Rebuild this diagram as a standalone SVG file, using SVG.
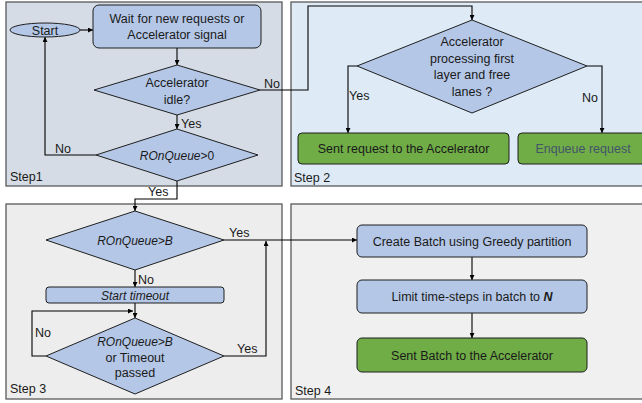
<svg xmlns="http://www.w3.org/2000/svg" width="642" height="403" viewBox="0 0 642 403">
<defs>
<marker id="ah" viewBox="0 0 10 10" refX="10" refY="5" markerWidth="5" markerHeight="5" orient="auto" markerUnits="userSpaceOnUse">
<path d="M0,0 L10,5 L0,10 z" fill="#000"/>
</marker>
<style>
text{font-family:"Liberation Sans",Arial,sans-serif;fill:#1a1a1a}
.t{font-size:12.5px;text-anchor:middle}
.l{font-size:12.5px}
.it{font-style:italic}
.panel{stroke:#595959;stroke-width:1.3}
.blue{fill:#b4c7e7;stroke:#1f1f1f;stroke-width:1}
.green{fill:#70ad47;stroke:#1f1f1f;stroke-width:1}
.c{fill:none;stroke:#000;stroke-width:1.1}
.a{marker-end:url(#ah)}
</style>
</defs>
<rect width="642" height="403" fill="#ffffff"/>
<g id="panels">
<rect class="panel" x="6" y="2" width="276" height="184" fill="#d6dce5"/>
<rect class="panel" x="291" y="2" width="355" height="184" fill="#deebf7"/>
<rect class="panel" x="6" y="204" width="276" height="195" fill="#ededed"/>
<rect class="panel" x="291" y="204" width="355" height="195" fill="#f0f0f0"/>
<text class="l" x="10" y="181">Step1</text>
<text class="l" x="294" y="182">Step 2</text>
<text class="l" x="10" y="393">Step 3</text>
<text class="l" x="295" y="395">Step 4</text>
</g>
<g id="connectors">
<line class="c a" x1="80" y1="30" x2="93" y2="30"/>
<line class="c a" x1="177" y1="48" x2="177" y2="65"/>
<path class="c a" d="M260,90 H308 V6 H472 V20"/>
<line class="c a" x1="177" y1="115" x2="177" y2="129"/>
<path class="c a" d="M96,155 H45 V37"/>
<path class="c a" d="M177,181 V199 H135 V211"/>
<path class="c a" d="M357,66 H348 V133"/>
<path class="c a" d="M587,66 H602 V133"/>
<line class="c a" x1="224" y1="240" x2="357" y2="240"/>
<line class="c a" x1="135" y1="270" x2="135" y2="287"/>
<line class="c a" x1="135" y1="303" x2="135" y2="318"/>
<path class="c a" d="M46,356 H32 V311 H133"/>
<path class="c a" d="M224,356 H266 V241"/>
<line class="c a" x1="472" y1="257" x2="472" y2="280"/>
<line class="c a" x1="472" y1="313" x2="472" y2="338"/>
<text class="l" x="264" y="88">No</text>
<text class="l" x="181" y="128">Yes</text>
<text class="l" x="55" y="153">No</text>
<text class="l" x="148" y="196">Yes</text>
<text class="l" x="349" y="100">Yes</text>
<text class="l" x="582" y="102">No</text>
<text class="l" x="229" y="237">Yes</text>
<text class="l" x="138" y="284">No</text>
<text class="l" x="35" y="337">No</text>
<text class="l" x="237" y="353">Yes</text>
</g>
<g id="start">
<ellipse class="blue" cx="45" cy="30" rx="35" ry="7"/>
<text class="t" x="45" y="34.5">Start</text>
</g>
<g id="wait">
<rect class="blue" x="93" y="5" width="168" height="43" rx="6"/>
<text class="t" x="177" y="23">Wait for new requests or</text>
<text class="t" x="177" y="39">Accelerator signal</text>
</g>
<g id="idle">
<polygon class="blue" points="177,65 260,90 177,115 94,90"/>
<text class="t" x="177" y="87">Accelerator</text>
<text class="t" x="177" y="104">idle?</text>
</g>
<g id="queue0">
<polygon class="blue" points="177,129 258,155 177,181 96,155"/>
<text class="t" x="177" y="159.5" style="font-size:12px"><tspan class="it">ROnQueue</tspan>&gt;0</text>
</g>
<g id="processing">
<polygon class="blue" points="472,20 587,66 472,113 357,66"/>
<text class="t" x="472" y="46">Accelerator</text>
<text class="t" x="472" y="63">processing first</text>
<text class="t" x="472" y="79">layer and free</text>
<text class="t" x="472" y="96">lanes ?</text>
</g>
<g id="sentreq">
<rect class="green" x="298" y="133" width="211" height="31" rx="4"/>
<text class="t" x="403.5" y="153">Sent request to the Accelerator</text>
</g>
<g id="enqueue">
<rect class="green" x="518" y="133" width="130" height="31" rx="4"/>
<text class="t" x="583" y="153" style="fill:#44546a">Enqueue request</text>
</g>
<g id="queueB">
<polygon class="blue" points="135,211 224,240 135,270 46,240"/>
<text class="t it" x="135" y="244.5" style="font-size:12px">ROnQueue&gt;B</text>
</g>
<g id="timeout">
<rect class="blue" x="46" y="287" width="178" height="16" rx="3"/>
<text class="t it" x="135" y="299.5" style="font-size:12px">Start timeout</text>
</g>
<g id="queueBtimeout">
<polygon class="blue" points="135,318 224,356 135,394 46,356"/>
<text class="t it" x="135" y="346" style="font-size:12px">ROnQueue&gt;B</text>
<text class="t" x="135" y="362">or Timeout</text>
<text class="t" x="135" y="377">passed</text>
</g>
<g id="createbatch">
<rect class="blue" x="357" y="225" width="230" height="32" rx="5"/>
<text class="t" x="472" y="245.5">Create Batch using Greedy partition</text>
</g>
<g id="limit">
<rect class="blue" x="357" y="280" width="230" height="33" rx="5"/>
<text class="t" x="472" y="301">Limit time-steps in batch to <tspan font-weight="bold" font-style="italic">N</tspan></text>
</g>
<g id="sentbatch">
<rect class="green" x="357" y="338" width="230" height="34" rx="5"/>
<text class="t" x="472" y="359.5">Sent Batch to the Accelerator</text>
</g>
</svg>
